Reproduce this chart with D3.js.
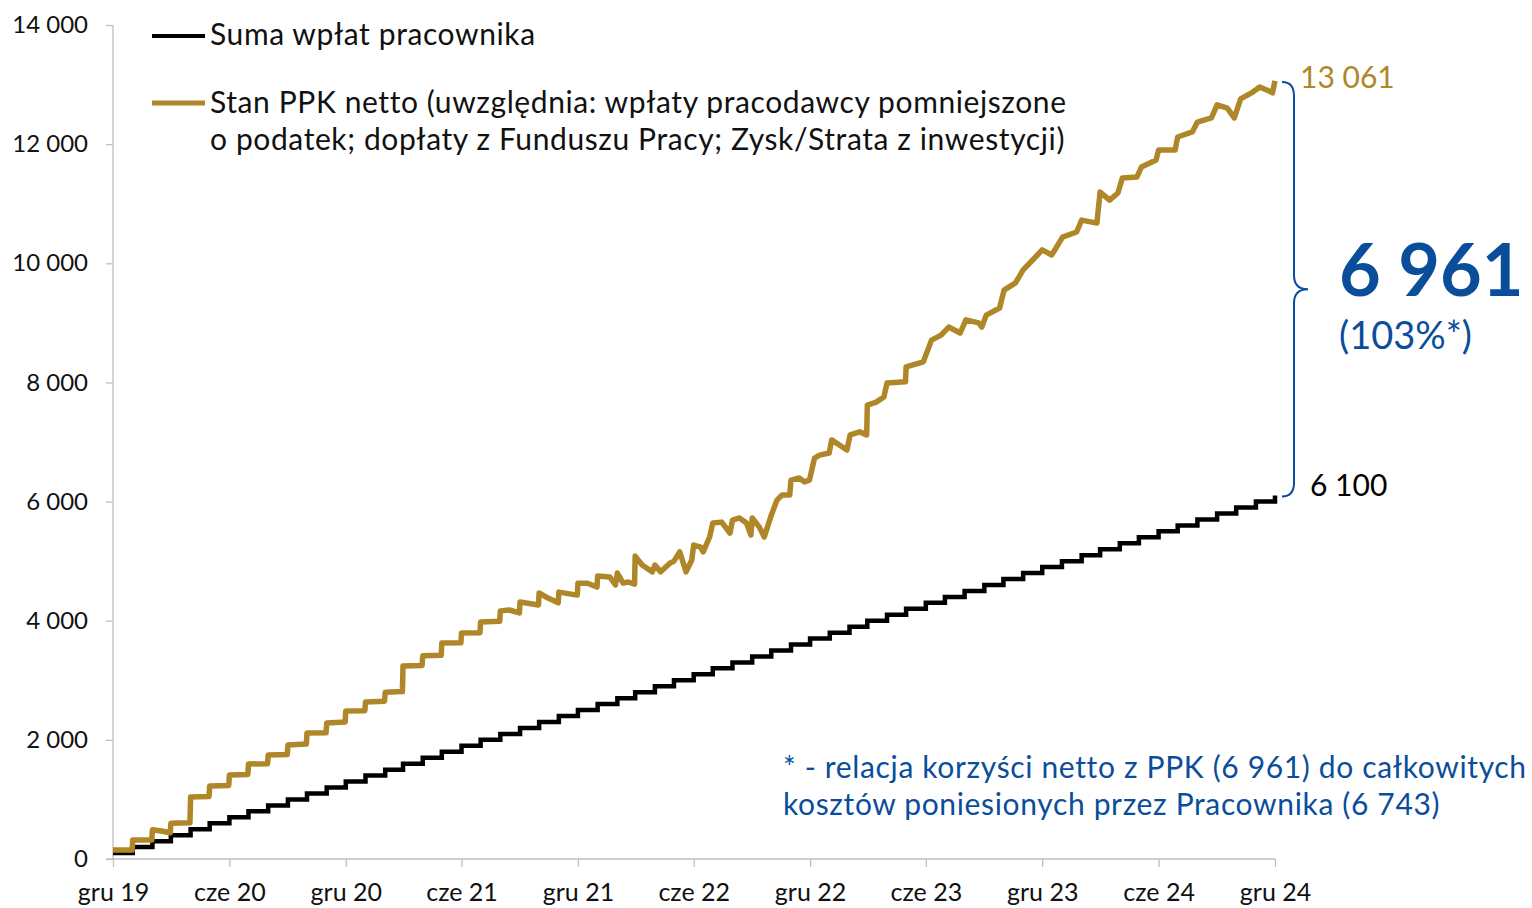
<!DOCTYPE html>
<html>
<head>
<meta charset="utf-8">
<script src="https://d3js.org/d3.v7.min.js"></script>
<style>
  body { margin: 0; background: #fff; }
  text { font-family: Lato, "Noto Sans", sans-serif; }
</style>
</head>
<body>
<svg id="vis"></svg>
<script>
  // ---- data ----
  // monthly sum of employee contributions (from dec 2019 to dec 2024)
  var blackMonths = ["2019-12-01","2020-01-01","2020-02-01","2020-03-01","2020-04-01","2020-05-01","2020-06-01",
    "2020-07-01","2020-08-01","2020-09-01","2020-10-01","2020-11-01","2020-12-01","2021-01-01","2021-02-01",
    "2021-03-01","2021-04-01","2021-05-01","2021-06-01","2021-07-01","2021-08-01","2021-09-01","2021-10-01",
    "2021-11-01","2021-12-01","2022-01-01","2022-02-01","2022-03-01","2022-04-01","2022-05-01","2022-06-01",
    "2022-07-01","2022-08-01","2022-09-01","2022-10-01","2022-11-01","2022-12-01","2023-01-01","2023-02-01",
    "2023-03-01","2023-04-01","2023-05-01","2023-06-01","2023-07-01","2023-08-01","2023-09-01","2023-10-01",
    "2023-11-01","2023-12-01","2024-01-01","2024-02-01","2024-03-01","2024-04-01","2024-05-01","2024-06-01",
    "2024-07-01","2024-08-01","2024-09-01","2024-10-01","2024-11-01","2024-12-01"];
  var blackValues = [100,200,300,400,500,600,700,800,900,1000,1100,1200,1300,1400,1500,1600,1700,1800,1900,2000,
    2100,2200,2300,2400,2500,2600,2700,2800,2900,3000,3100,3200,3300,3400,3500,3600,3700,3800,3900,4000,
    4100,4200,4300,4400,4500,4600,4700,4800,4900,5000,5100,5200,5300,5400,5500,5600,5700,5800,5900,6000,6100];

  // net PPK balance
  var gold2020 = [["2019-12-01",150],["2019-12-31",150],["2020-01-01",320],["2020-01-31",320],
    ["2020-02-01",490],["2020-02-15",470],["2020-02-29",440],["2020-03-01",600],["2020-03-31",610],
    ["2020-04-01",1040],["2020-04-30",1050],["2020-05-01",1225],["2020-05-31",1235],["2020-06-01",1410],
    ["2020-06-30",1420],["2020-07-01",1595],["2020-07-31",1600],["2020-08-01",1745],["2020-08-31",1755],
    ["2020-09-01",1915],["2020-09-30",1930],["2020-10-01",2115],["2020-10-31",2120],["2020-11-01",2285],
    ["2020-11-30",2300],["2020-12-01",2485],["2020-12-31",2490]];
  var gold2021 = [["2021-01-01",2635],["2021-01-31",2650],["2021-02-01",2800],["2021-02-28",2810],
    ["2021-03-01",3240],["2021-03-31",3250],["2021-04-01",3410],["2021-04-30",3420],["2021-05-01",3625],
    ["2021-05-31",3630],["2021-06-01",3795],["2021-06-30",3800],["2021-07-01",3980],["2021-07-31",3990],
    ["2021-08-01",4165],["2021-08-15",4180],["2021-08-31",4130],["2021-09-01",4315],["2021-09-30",4265],
    ["2021-10-01",4465],["2021-10-15",4380],["2021-10-31",4300],["2021-11-01",4480],["2021-11-30",4430],
    ["2021-12-01",4630],["2021-12-16",4630],["2021-12-31",4565]];
  var gold2022 = [["2022-01-01",4750],["2022-01-20",4735],["2022-01-29",4600],["2022-02-01",4800],
    ["2022-02-10",4630],["2022-02-18",4650],["2022-02-28",4615],["2022-03-01",5085],["2022-03-12",4935],
    ["2022-03-28",4820],["2022-04-01",4935],["2022-04-10",4820],["2022-04-25",4970],["2022-05-01",5000],
    ["2022-05-10",5155],["2022-05-20",4820],["2022-05-29",5020],["2022-06-01",5270],["2022-06-12",5235],
    ["2022-06-16",5155],["2022-06-26",5405],["2022-07-01",5640],["2022-07-15",5655],["2022-07-28",5470],
    ["2022-08-01",5690],["2022-08-12",5725],["2022-08-23",5640],["2022-08-30",5440],["2022-09-01",5725],
    ["2022-09-12",5575],["2022-09-20",5405],["2022-09-30",5740],["2022-10-10",6025],["2022-10-18",6110],
    ["2022-10-30",6110],["2022-11-01",6360],["2022-11-14",6395],["2022-11-22",6330],["2022-11-30",6360],
    ["2022-12-08",6730],["2022-12-16",6780],["2022-12-31",6815]];
  var gold2023 = [["2023-01-04",7035],["2023-01-16",6950],["2023-01-28",6865],["2023-02-02",7120],
    ["2023-02-17",7170],["2023-02-28",7120],["2023-03-01",7620],["2023-03-15",7670],["2023-03-27",7755],
    ["2023-04-01",7990],["2023-04-30",8010],["2023-05-01",8260],["2023-05-28",8345],["2023-06-10",8710],
    ["2023-06-25",8795],["2023-07-07",8930],["2023-07-25",8830],["2023-08-03",9050],["2023-08-23",9000],
    ["2023-08-28",8930],["2023-09-04",9130],["2023-09-25",9250],["2023-10-02",9550],["2023-10-20",9670],
    ["2023-11-01",9890],["2023-11-16",10055],["2023-12-01",10225],["2023-12-16",10140]];
  var gold2024 = [["2024-01-02",10440],["2024-01-24",10525],["2024-02-01",10725],["2024-02-25",10675],
    ["2024-03-01",11195],["2024-03-16",11060],["2024-03-29",11180],["2024-04-05",11430],["2024-04-28",11450],
    ["2024-05-05",11615],["2024-05-28",11735],["2024-06-01",11900],["2024-06-27",11900],["2024-07-01",12120],
    ["2024-07-24",12205],["2024-08-01",12370],["2024-08-23",12440],["2024-09-01",12660],["2024-09-17",12605],
    ["2024-09-28",12440],["2024-10-08",12760],["2024-10-25",12860],["2024-11-07",12960],["2024-11-18",12910],
    ["2024-11-27",12860],["2024-12-01",13061]];

  var yTicks = [0, 2000, 4000, 6000, 8000, 10000, 12000, 14000];
  var xTickDates = ["2019-12-01","2020-06-01","2020-12-01","2021-06-01","2021-12-01","2022-06-01",
    "2022-12-01","2023-06-01","2023-12-01","2024-06-01","2024-12-01"];
  var xTickLabels = ["gru 19","cze 20","gru 20","cze 21","gru 21","cze 22","gru 22","cze 23","gru 23","cze 24","gru 24"];

  var legendLabels = ["Suma wpłat pracownika",
    "Stan PPK netto (uwzględnia: wpłaty pracodawcy pomniejszone",
    "o podatek; dopłaty z Funduszu Pracy; Zysk/Strata z inwestycji)"];
  var endGold = 13061, endBlack = 6100, diff = 6961, diffPct = "(103%*)";
  var footnote = ["* - relacja korzyści netto z PPK (6 961) do całkowitych",
    "kosztów poniesionych przez Pracownika (6 743)"];

  // ---- setup ----
  var W = 1532, H = 908;
  var gold = "#AF8628", blue = "#0A4E9B", axisCol = "#BFBFBF";
  var parse = d3.timeParse("%Y-%m-%d");
  var fmt = function(v){ return d3.format(",")(v).replace(/,/g, " "); };

  var svg = d3.select("#vis").attr("width", W).attr("height", H);

  var x = d3.scaleTime()
    .domain([parse("2019-12-01"), parse("2024-12-01")])
    .range([113, 1275]);
  var y = d3.scaleLinear()
    .domain([0, 14000])
    .range([859, 25]);

  // axes
  var yAxis = svg.append("g")
    .attr("transform", "translate(113,0)")
    .call(d3.axisLeft(y).tickValues(yTicks).tickSize(7).tickPadding(18).tickFormat(fmt));
  yAxis.select(".domain").attr("stroke", axisCol).attr("stroke-width", 1.3).attr("d", "M0," + y(14000) + "V" + y(0));
  yAxis.selectAll(".tick line").attr("stroke", axisCol).attr("stroke-width", 1.3);
  yAxis.selectAll(".tick text").attr("font-size", 24).attr("fill", "#111").attr("font-family", "Lato");

  var xAxis = svg.append("g")
    .attr("transform", "translate(0," + y(0) + ")")
    .call(d3.axisBottom(x).tickValues(xTickDates.map(parse)).tickSize(8).tickPadding(16)
      .tickFormat(function(d, i){ return xTickLabels[i]; }));
  xAxis.select(".domain").attr("stroke", axisCol).attr("stroke-width", 1.3).attr("d", "M106,0H" + x.range()[1]);
  xAxis.selectAll(".tick line").attr("stroke", axisCol).attr("stroke-width", 1.3);
  xAxis.selectAll(".tick text").attr("font-size", 25).attr("fill", "#111").attr("font-family", "Lato");

  // lines
  var blackData = blackMonths.map(function(m, i){ return {date: parse(m), value: blackValues[i]}; });
  var goldData = gold2020.concat(gold2021, gold2022, gold2023, gold2024)
    .map(function(p){ return {date: parse(p[0]), value: p[1]}; });

  svg.append("path")
    .datum(blackData)
    .attr("fill", "none")
    .attr("stroke", "#000")
    .attr("stroke-width", 4.5)
    .attr("d", d3.line().curve(d3.curveStepAfter)
      .x(function(d){ return x(d.date); })
      .y(function(d){ return y(d.value); }));

  svg.append("path")
    .datum(goldData)
    .attr("fill", "none")
    .attr("stroke", gold)
    .attr("stroke-width", 5.5)
    .attr("stroke-linejoin", "round")
    .attr("d", d3.line()
      .x(function(d){ return x(d.date); })
      .y(function(d){ return y(d.value); }));

  // legend
  svg.append("line").attr("x1", 152).attr("x2", 205).attr("y1", 36).attr("y2", 36)
    .attr("stroke", "#000").attr("stroke-width", 4);
  svg.append("line").attr("x1", 152).attr("x2", 205).attr("y1", 103).attr("y2", 103)
    .attr("stroke", gold).attr("stroke-width", 5);
  var leg = svg.append("g").attr("font-size", 30).attr("fill", "#111").attr("letter-spacing", 0.6);
  leg.append("text").attr("x", 210).attr("y", 45).text(legendLabels[0]);
  leg.append("text").attr("x", 210).attr("y", 113).text(legendLabels[1]);
  leg.append("text").attr("x", 210).attr("y", 150).text(legendLabels[2]);

  // end labels
  svg.append("text").attr("x", 1300).attr("y", y(endGold) + 7).attr("font-size", 30)
    .attr("fill", gold).text(fmt(endGold));
  svg.append("text").attr("x", 1310).attr("y", y(endBlack)).attr("font-size", 30)
    .attr("fill", "#000").text(fmt(endBlack));

  // brace between the two end values
  var yt = y(endGold) + 1, yb = y(endBlack) + 1, ym = (yt + yb) / 2;
  var bx = 1282, bv = 1294, bt = 1308;
  svg.append("path")
    .attr("fill", "none").attr("stroke", blue).attr("stroke-width", 2)
    .attr("d", "M" + bx + "," + yt + " Q" + bv + "," + yt + " " + bv + "," + (yt + 14) +
      " V" + (ym - 14) + " Q" + bv + "," + ym + " " + bt + "," + ym +
      " Q" + bv + "," + ym + " " + bv + "," + (ym + 14) +
      " V" + (yb - 14) + " Q" + bv + "," + yb + " " + bx + "," + yb);

  svg.append("text").attr("x", 1339).attr("y", 296).attr("font-size", 72).attr("font-weight", "bold")
    .attr("fill", blue).text(fmt(diff));
  svg.append("text").attr("x", 1339).attr("y", 349).attr("font-size", 38)
    .attr("fill", blue).text(diffPct);

  // footnote
  var foot = svg.append("g").attr("font-size", 30).attr("fill", blue).attr("letter-spacing", 0.65);
  foot.append("text").attr("x", 783).attr("y", 778).text(footnote[0]);
  foot.append("text").attr("x", 783).attr("y", 815).text(footnote[1]);
</script>
</body>
</html>
